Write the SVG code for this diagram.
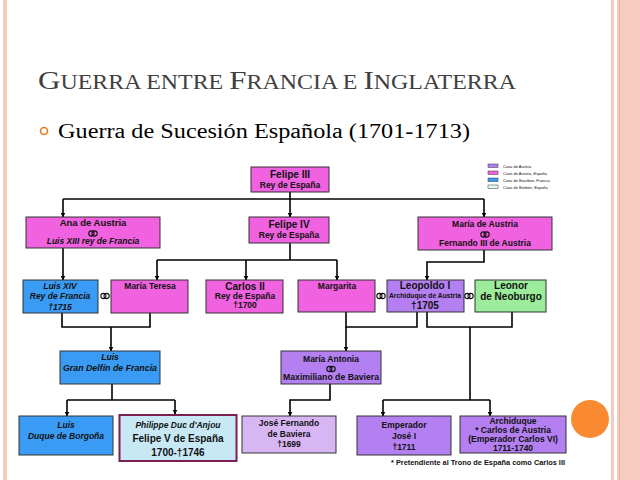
<svg xmlns="http://www.w3.org/2000/svg" width="640" height="480" viewBox="0 0 640 480">
<defs>
<marker id="ah" viewBox="0 0 10 10" refX="9" refY="5" markerWidth="5" markerHeight="5" orient="auto" markerUnits="userSpaceOnUse">
<path d="M0,0 L10,5 L0,10 z" fill="#000"/>
</marker>
<g id="rings" fill="none" stroke="#111" stroke-width="1.1">
<circle cx="-1.6" cy="0" r="2.6"/>
<circle cx="1.6" cy="0" r="2.6"/>
</g>
<style>
.b{stroke:#333;stroke-width:1}
.pk{fill:#f062df}
.pu{fill:#b47ff0}
.bl{fill:#3a9bf4}
.gr{fill:#9cec9c}
.lb{fill:#c8e8f6}
.lv{fill:#d8b6f4}
text{font-family:"Liberation Sans",Arial,sans-serif;font-weight:bold;font-size:8.5px;text-anchor:middle;fill:#111}
.h{font-size:10px}
.i{font-style:italic}
.c line,.c path{stroke:#000;stroke-width:1.6;fill:none}
.lg{font-size:4px;font-weight:normal;text-anchor:start}
</style>
</defs>
<rect width="640" height="480" fill="#fff"/>
<rect x="3" y="0" width="4" height="480" fill="#f5c9bc"/>
<rect x="611" y="0" width="3" height="480" fill="#f5c9bc"/>
<rect x="617" y="0" width="23" height="480" fill="#f7cbbd"/>
<rect x="619" y="0" width="1" height="480" fill="#eab3a3"/>
<circle cx="590" cy="419" r="19" fill="#f98a32"/>
<g id="title">
<text x="38" y="89" style="font-family:'Liberation Serif',serif;font-weight:normal;font-size:20px;text-anchor:start;fill:#404040" textLength="478" lengthAdjust="spacingAndGlyphs"><tspan font-size="26">G</tspan>UERRA ENTRE <tspan font-size="26">F</tspan>RANCIA E <tspan font-size="26">I</tspan>NGLATERRA</text>
</g>
<g id="bullet">
<circle cx="44" cy="131" r="3.5" fill="none" stroke="#e07b20" stroke-width="1.6"/>
<text x="58" y="138" style="font-family:'Liberation Serif',serif;font-weight:normal;font-size:20px;text-anchor:start;fill:#000" textLength="412" lengthAdjust="spacingAndGlyphs">Guerra de Sucesión Española (1701-1713)</text>
</g>
<g id="legend">
<rect x="488" y="164" width="10" height="3.5" class="pu" stroke="#333" stroke-width="0.5"/>
<text class="lg" x="503" y="167.5">Casa de Austria</text>
<rect x="488" y="171" width="10" height="3.5" class="pk" stroke="#333" stroke-width="0.5"/>
<text class="lg" x="503" y="174.5">Casa de Austria, España</text>
<rect x="488" y="178" width="10" height="3.5" class="bl" stroke="#333" stroke-width="0.5"/>
<text class="lg" x="503" y="181.5">Casa de Bourbon, Francia</text>
<rect x="488" y="185" width="10" height="3.5" fill="#e0fff0" stroke="#333" stroke-width="0.5"/>
<text class="lg" x="503" y="188.5">Casa de Borbón, España</text>
</g>
<g class="c" id="connectors">
<line x1="290" y1="192" x2="290" y2="199"/>
<line x1="63" y1="199" x2="484" y2="199" stroke-width="1.2"/>
<line x1="290" y1="199" x2="290" y2="217" marker-end="url(#ah)"/>
<line x1="63" y1="199" x2="63" y2="217" marker-end="url(#ah)"/>
<line x1="484" y1="199" x2="484" y2="217" marker-end="url(#ah)"/>
<line x1="63" y1="248" x2="63" y2="280" marker-end="url(#ah)"/>
<line x1="290" y1="243" x2="290" y2="260"/>
<line x1="157" y1="260" x2="337" y2="260"/>
<line x1="157" y1="260" x2="157" y2="280" marker-end="url(#ah)"/>
<line x1="246" y1="260" x2="246" y2="280" marker-end="url(#ah)"/>
<line x1="337" y1="260" x2="337" y2="280" marker-end="url(#ah)"/>
<path d="M484,250 V262 H427 V280" marker-end="url(#ah)"/>
<path d="M62,313 V327 H150 V313"/>
<line x1="111" y1="327" x2="111" y2="351" marker-end="url(#ah)"/>
<path d="M346,312 V327 H417 V312"/>
<line x1="346" y1="327" x2="346" y2="351" marker-end="url(#ah)"/>
<path d="M427,312 V327 H512 V312"/>
<line x1="470" y1="327" x2="470" y2="400"/>
<line x1="383" y1="400" x2="490" y2="400"/>
<line x1="383" y1="400" x2="383" y2="416" marker-end="url(#ah)"/>
<line x1="490" y1="400" x2="490" y2="416" marker-end="url(#ah)"/>
<line x1="112" y1="384" x2="112" y2="400"/>
<line x1="67" y1="400" x2="175" y2="400"/>
<line x1="67" y1="400" x2="67" y2="416" marker-end="url(#ah)"/>
<line x1="175" y1="400" x2="175" y2="414" marker-end="url(#ah)"/>
<path d="M330,384 V400 H290 V416" marker-end="url(#ah)"/>
</g>
<g id="felipe3">
<rect x="251" y="167" width="78" height="25" class="pk b"/>
<text class="h" x="290" y="178">Felipe III</text>
<text x="290" y="188">Rey de España</text>
</g>
<g id="ana">
<rect x="26" y="217" width="134" height="31" class="pk b"/>
<text x="93" y="226" style="font-size:9.5px">Ana de Austria</text>
<use href="#rings" x="93" y="233.5"/>
<text class="i" x="93" y="244">Luis XIII rey de Francia</text>
</g>
<g id="felipe4">
<rect x="249" y="217" width="80" height="26" class="pk b"/>
<text class="h" x="289" y="228">Felipe IV</text>
<text x="289" y="238">Rey de España</text>
</g>
<g id="mariaaustria">
<rect x="418" y="217" width="134" height="33" class="pk b"/>
<text x="485" y="227">María de Austria</text>
<use href="#rings" x="485" y="234.5"/>
<text x="485" y="246">Fernando III de Austria</text>
</g>
<g id="luis14">
<rect x="23" y="280" width="75" height="33" class="bl b"/>
<text class="i" x="60" y="289">Luis XIV</text>
<text class="i" x="60" y="299">Rey de Francia</text>
<text class="i" x="60" y="310">†1715</text>
<use href="#rings" x="105" y="296"/>
</g>
<g id="mariateresa">
<rect x="111" y="280" width="77" height="33" class="pk b"/>
<text x="150" y="289">María Teresa</text>
</g>
<g id="carlos2">
<rect x="206" y="280" width="77" height="33" class="pk b"/>
<text class="h" x="245" y="290">Carlos II</text>
<text x="245" y="299">Rey de España</text>
<text x="245" y="308">†1700</text>
</g>
<g id="margarita">
<rect x="298" y="280" width="77" height="32" class="pk b"/>
<text x="337" y="289">Margarita</text>
<use href="#rings" x="381" y="296"/>
</g>
<g id="leopoldo">
<rect x="387" y="280" width="77" height="32" class="pu b"/>
<text class="h" x="425" y="289">Leopoldo I</text>
<text x="425" y="298" style="font-size:7px" textLength="72" lengthAdjust="spacingAndGlyphs">Archiduque de Austria</text>
<text class="h" x="425" y="309">†1705</text>
<use href="#rings" x="469" y="296"/>
</g>
<g id="leonor">
<rect x="475" y="280" width="71" height="32" class="gr b"/>
<text class="h" x="511" y="289">Leonor</text>
<text class="h" x="511" y="300">de Neoburgo</text>
</g>
<g id="granDelfin">
<rect x="60" y="351" width="100" height="33" class="bl b"/>
<text class="i" x="110" y="360">Luis</text>
<text class="i" x="110" y="371" textLength="94" lengthAdjust="spacingAndGlyphs">Gran Delfín de Francia</text>
</g>
<g id="mariaantonia">
<rect x="281" y="351" width="100" height="33" class="pu b"/>
<text x="331" y="362">María Antonia</text>
<use href="#rings" x="331" y="369"/>
<text x="331" y="380" textLength="96" lengthAdjust="spacingAndGlyphs">Maximiliano de Baviera</text>
</g>
<g id="luisduque">
<rect x="19" y="416" width="94" height="39" class="bl b"/>
<text class="i" x="66" y="428">Luis</text>
<text class="i" x="66" y="439">Duque de Borgoña</text>
</g>
<g id="philippe">
<rect x="119.5" y="415" width="117" height="46" class="lb" stroke="#7a2050" stroke-width="2"/>
<text class="i" x="178" y="428">Philippe Duc d'Anjou</text>
<text x="178" y="442" style="font-size:10px">Felipe V de España</text>
<text x="178" y="456" style="font-size:10px">1700-†1746</text>
</g>
<g id="josefernando">
<rect x="242" y="416" width="94" height="37" class="lv b"/>
<text x="289" y="426">José Fernando</text>
<text x="289" y="437">de Baviera</text>
<text x="289" y="447">†1699</text>
</g>
<g id="emperador">
<rect x="357" y="416" width="94" height="39" class="pu b"/>
<text x="404" y="428">Emperador</text>
<text x="404" y="439">José I</text>
<text x="404" y="450">†1711</text>
</g>
<g id="archiduque">
<rect x="460" y="416" width="106" height="37" class="pu b"/>
<text x="513" y="424">Archiduque</text>
<text x="513" y="433">* Carlos de Austria</text>
<text x="513" y="442">(Emperador Carlos VI)</text>
<text x="513" y="451">1711-1740</text>
</g>
<g id="footnote">
<text x="478" y="465" style="font-size:6.5px" textLength="174" lengthAdjust="spacingAndGlyphs">* Pretendiente al Trono de España como Carlos III</text>
</g>
</svg>
